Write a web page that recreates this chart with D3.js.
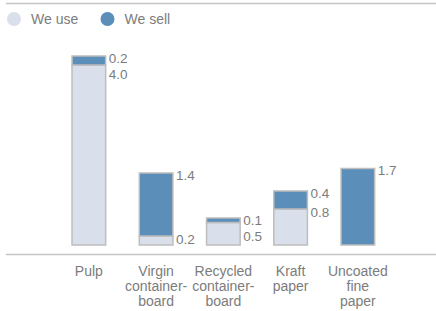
<!DOCTYPE html>
<html lang="en">
<head>
    <meta charset="UTF-8">
    <title>We use / We sell</title>
    <script type="text/javascript" src="https://cdn.jsdelivr.net/npm/d3@7/dist/d3.min.js"></script>
</head>
<style>
    body{ margin:0; background:#fff; }
    text{ font-family: "Liberation Sans", Arial, sans-serif; fill:#7c7c7c; }
    .rule{ stroke:#c4c4c4; stroke-width:1.5; }
    .bar{ stroke:#bdbdbd; stroke-width:1.5; }
    .val{ font-size:13.5px; }
    .cat{ font-size:14px; text-anchor:middle; }
    .leg{ font-size:14px; }
</style>
<body>
<script>
    var width = 436;
    var height = 311;

    var categories = [
        ["Pulp"],
        ["Virgin", "container-", "board"],
        ["Recycled", "container-", "board"],
        ["Kraft", "paper"],
        ["Uncoated", "fine", "paper"]
    ];
    var weUse  = [4.0, 0.2, 0.5, 0.8, 0];
    var weSell = [0.2, 1.4, 0.1, 0.4, 1.7];
    var seriesNames = ["We use", "We sell"];
    var colors = ["#d9e0eb", "#5b8fba"];

    var svg = d3.select("body")
            .append("svg")
            .attr("width", width)
            .attr("height", height);

    var baseY = 245;
    var topY = 56;

    var xScale = d3.scaleBand()
            .domain(d3.range(categories.length))
            .range([21.6, 425.1])
            .paddingInner(0.5)
            .paddingOuter(0.75);

    var totals = weUse.map(function(d, i){ return d + weSell[i]; });
    var yScale = d3.scaleLinear()
            .domain([0, d3.max(totals)])
            .range([baseY, topY]);

    // rules
    svg.append("line").attr("class", "rule")
            .attr("x1", 6).attr("x2", width).attr("y1", 3.5).attr("y2", 3.5);
    svg.append("line").attr("class", "rule")
            .attr("x1", 6).attr("x2", width).attr("y1", 254.5).attr("y2", 254.5);

    // legend
    var leg = svg.selectAll(".legItem")
            .data(seriesNames)
            .enter()
            .append("g")
            .attr("transform", function(d, i){ return "translate(" + (14 + i * 93.5) + ",19)"; });
    leg.append("circle").attr("r", 7).attr("fill", function(d, i){ return colors[i]; });
    leg.append("text").attr("class", "leg").attr("x", 17).attr("y", 5).text(function(d){ return d; });

    // bars
    var rows = weUse.map(function(d, i){ return {i:i, use:d, sell:weSell[i]}; });

    svg.selectAll(".useRect")
            .data(rows)
            .enter()
            .filter(function(d){ return d.use > 0; })
            .append("rect")
            .attr("class", "bar")
            .attr("fill", colors[0])
            .attr("x", function(d){ return xScale(d.i); })
            .attr("width", xScale.bandwidth())
            .attr("y", function(d){ return yScale(d.use); })
            .attr("height", function(d){ return baseY - yScale(d.use); });

    svg.selectAll(".sellRect")
            .data(rows)
            .enter()
            .append("rect")
            .attr("class", "bar")
            .attr("fill", colors[1])
            .attr("x", function(d){ return xScale(d.i); })
            .attr("width", xScale.bandwidth())
            .attr("y", function(d){ return yScale(d.use + d.sell); })
            .attr("height", function(d){ return yScale(d.use) - yScale(d.use + d.sell); });

    // value labels
    function sellY(d){ return yScale(d.use + d.sell) + 2; }
    svg.selectAll(".sellText")
            .data(rows)
            .enter()
            .append("text")
            .attr("class", "val")
            .attr("x", function(d){ return xScale(d.i) + xScale.bandwidth() + 3; })
            .attr("y", sellY)
            .attr("dy", "0.35em")
            .text(function(d){ return d.sell.toFixed(1); });

    svg.selectAll(".useText")
            .data(rows.filter(function(d){ return d.use > 0; }))
            .enter()
            .append("text")
            .attr("class", "val")
            .attr("x", function(d){ return xScale(d.i) + xScale.bandwidth() + 3; })
            .attr("y", function(d){ return Math.max(yScale(d.use) + 3, sellY(d) + 16); })
            .attr("dy", "0.35em")
            .text(function(d){ return d.use.toFixed(1); });

    // category labels
    var cats = svg.selectAll(".cat")
            .data(categories)
            .enter()
            .append("text")
            .attr("class", "cat")
            .attr("transform", function(d, i){ return "translate(" + (xScale(i) + xScale.bandwidth() / 2) + ",276)"; });
    cats.selectAll("tspan")
            .data(function(d){ return d; })
            .enter()
            .append("tspan")
            .attr("x", 0)
            .attr("y", function(d, j){ return j * 15; })
            .text(function(d){ return d; });
</script>
</body>
</html>
